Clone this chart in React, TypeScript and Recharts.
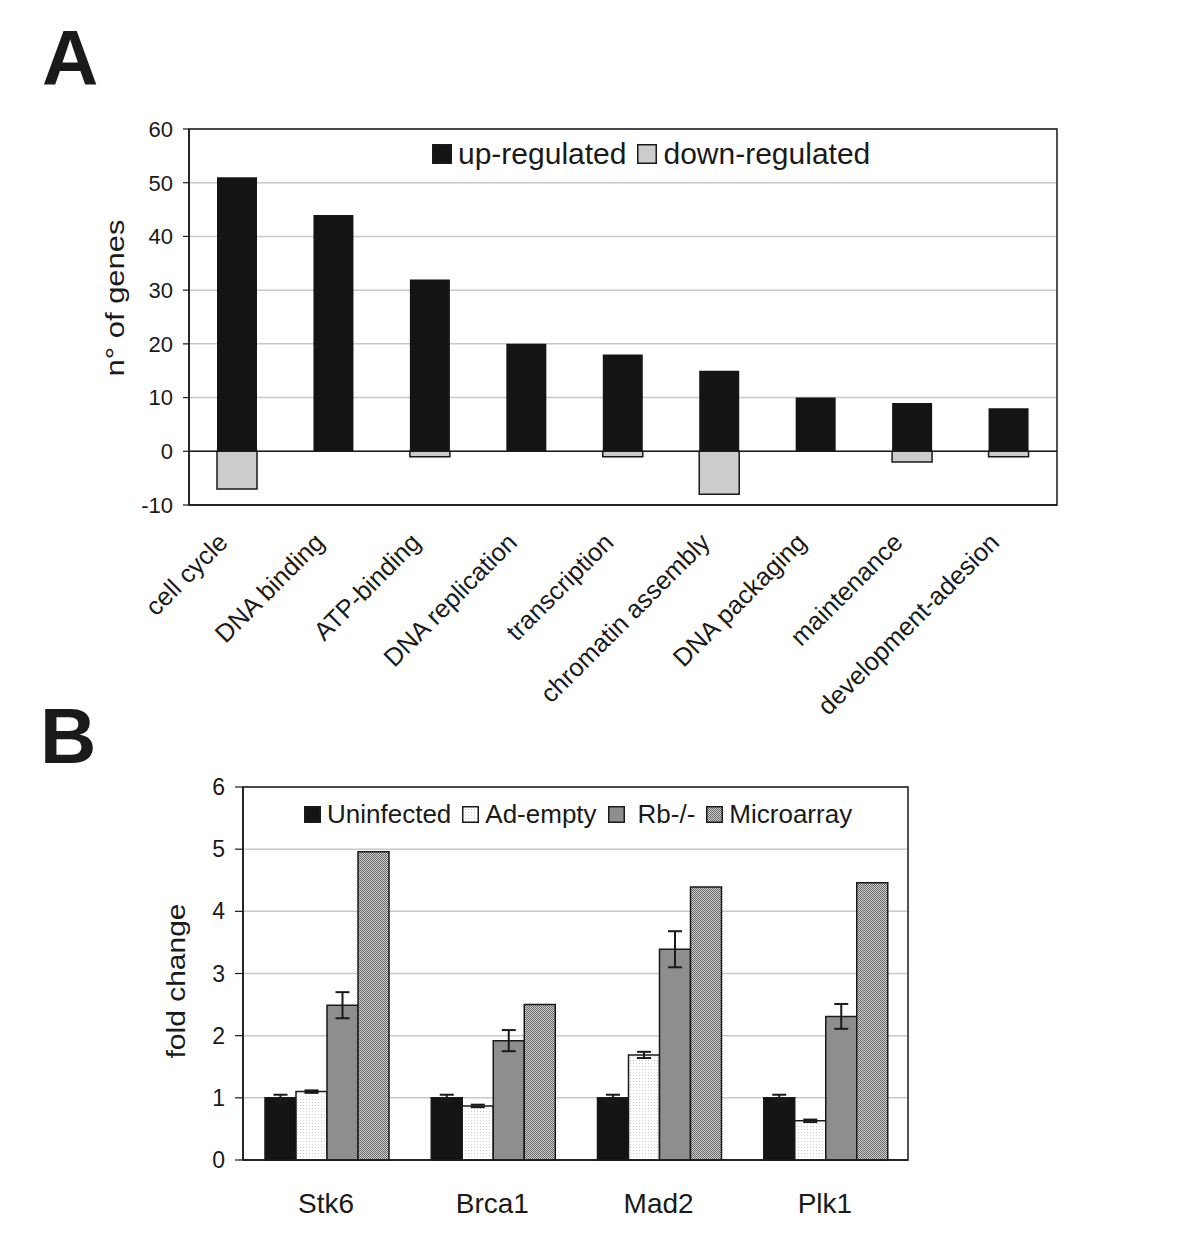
import React from 'react';
import { BarChart, Bar, XAxis, YAxis, CartesianGrid, ReferenceLine, ReferenceArea, Legend, ErrorBar } from 'recharts';

const FONT = '"Liberation Sans", Arial, Helvetica, sans-serif';
const INK = '#1a1a1a';

// ---------- Panel A data ----------
const categoriesA = [
  'cell cycle',
  'DNA binding',
  'ATP-binding',
  'DNA replication',
  'transcription',
  'chromatin assembly',
  'DNA packaging',
  'maintenance',
  'development-adesion',
];
const seriesA = ['up-regulated', 'down-regulated'];
const upRegulated = [51, 44, 32, 20, 18, 15, 10, 9, 8];
const downRegulated = [-7, 0, -1, 0, -1, -8, 0, -2, -1];
const yTicksA = [-10, 0, 10, 20, 30, 40, 50, 60];

// ---------- Panel B data ----------
const genes = ['Stk6', 'Brca1', 'Mad2', 'Plk1'];
const seriesB = ['Uninfected', 'Ad-empty', 'Rb-/-', 'Microarray'];
const uninfected = [1.0, 1.0, 1.0, 1.0];
const uninfectedErr = [0.05, 0.05, 0.05, 0.05];
const adEmpty = [1.1, 0.87, 1.69, 0.63];
const adEmptyErr = [0.02, 0.02, 0.05, 0.02];
const rbKO = [2.49, 1.92, 3.39, 2.31];
const rbKOErr = [0.21, 0.17, 0.29, 0.2];
const microarray = [4.96, 2.5, 4.39, 4.46];
const yTicksB = [0, 1, 2, 3, 4, 5, 6];

const dataA = categoriesA.map((c, i) => ({ category: c, up: upRegulated[i], down: downRegulated[i] }));
const dataB = genes.map((g, i) => ({
  gene: g,
  uninfected: uninfected[i],
  uninfectedErr: uninfectedErr[i],
  adEmpty: adEmpty[i],
  adEmptyErr: adEmptyErr[i],
  rb: rbKO[i],
  rbErr: rbKOErr[i],
  microarray: microarray[i],
}));

const RotatedTick = (props: any) => {
  const { x, y, payload } = props;
  return (
    <g transform={`translate(${x - 8},${y + 39})`}>
      <text x={0} y={0} transform="rotate(-45)" textAnchor="end" fontSize={25.5} fontFamily={FONT} fill={INK}>
        {payload.value}
      </text>
    </g>
  );
};

const AxisTitle = (props: any) => {
  const { px, py, text, len, size } = props;
  return (
    <text
      x={px}
      y={py}
      transform={`rotate(-90, ${px}, ${py})`}
      textAnchor="middle"
      fontSize={size}
      fontFamily={FONT}
      fill={INK}
      textLength={len}
      lengthAdjust="spacingAndGlyphs"
    >
      {text}
    </text>
  );
};

const makeLegend = (order: string[], fontSize: number, box: number, gap: number, textGaps: number[]) => (props: any) => {
  const items = [...(props.payload || [])].sort((a: any, b: any) => order.indexOf(a.value) - order.indexOf(b.value));
  return (
    <div style={{ display: 'flex', alignItems: 'center', fontFamily: FONT, fontSize, color: INK, whiteSpace: 'nowrap', lineHeight: 1.15 }}>
      {items.map((e: any, i: number) => (
        <div key={i} style={{ display: 'flex', alignItems: 'center', marginRight: gap }}>
          <svg width={box} height={box} style={{ display: 'block' }}>
            <rect x={0.75} y={0.75} width={box - 1.5} height={box - 1.5} fill={e.color} stroke={INK} strokeWidth={1.5} />
          </svg>
          <span style={{ marginLeft: textGaps[i] ?? 6 }}>{e.value}</span>
        </div>
      ))}
    </div>
  );
};

const LegendA = makeLegend(seriesA, 30, 20, 11, [6, 6]);
const LegendB = makeLegend(seriesB, 26, 17, 11, [6, 6, 13, 6]);

export default function App() {
  return (
    <div style={{ position: 'absolute', left: 0, top: 0, width: 1200, height: 1249, background: '#ffffff', fontFamily: FONT }}>
      <div style={{ position: 'absolute', left: 42, top: 19, fontSize: 78, fontWeight: 'bold', lineHeight: 1, color: INK, fontFamily: FONT }}>A</div>
      <div style={{ position: 'absolute', left: 40, top: 697, fontSize: 78, fontWeight: 'bold', lineHeight: 1, color: INK, fontFamily: FONT }}>B</div>

      {/* Panel A */}
      <div style={{ position: 'absolute', left: 0, top: 0 }}>
        <BarChart
          width={1200}
          height={740}
          data={dataA}
          stackOffset="sign"
          margin={{ top: 129, right: 143, bottom: 0, left: 0 }}
        >
          <CartesianGrid vertical={false} stroke="#c8c8c8" strokeWidth={1.5} />
          <XAxis
            dataKey="category"
            interval={0}
            height={235}
            tickLine={false}
            tickSize={0}
            tickMargin={0}
            axisLine={{ stroke: INK, strokeWidth: 1.5 }}
            tick={<RotatedTick />}
          />
          <YAxis
            width={189}
            domain={[-10, 60]}
            ticks={yTicksA}
            interval={0}
            tickSize={6}
            tickMargin={10}
            tickLine={{ stroke: INK, strokeWidth: 1.2 }}
            axisLine={{ stroke: INK, strokeWidth: 1.5 }}
            tick={{ fontSize: 22, fill: INK, fontFamily: FONT }}
            label={<AxisTitle px={124} py={298} text="n° of genes" len={157} size={26} />}
          />
          <ReferenceArea y1={-10} y2={60} fill="none" fillOpacity={0} stroke={INK} strokeWidth={1.5} />
          <ReferenceLine y={0} stroke={INK} strokeWidth={1.5} />
          <Legend
            layout="horizontal"
            verticalAlign="middle"
            align="center"
            content={<LegendA />}
            wrapperStyle={{ top: 137, left: 432, width: 'auto', height: 'auto' }}
          />
          <Bar dataKey="up" name="up-regulated" stackId="s" fill="#141414" barSize={40} isAnimationActive={false} />
          <Bar dataKey="down" name="down-regulated" stackId="s" fill="#cccccc" stroke={INK} strokeWidth={1.5} barSize={40} isAnimationActive={false} />
        </BarChart>
      </div>

      {/* Panel B */}
      <div style={{ position: 'absolute', left: 0, top: 700 }}>
        <BarChart
          width={1200}
          height={549}
          data={dataB}
          barGap={0}
          barCategoryGap={22}
          margin={{ top: 87, right: 292, bottom: 0, left: 0 }}
        >
          <defs>
            <pattern id="dotsPat" width="3" height="3" patternUnits="userSpaceOnUse">
              <rect width="3" height="3" fill="#ffffff" />
              <rect width="1" height="1" fill="#cdcdcd" />
            </pattern>
            <pattern id="checkPat" width="2" height="2" patternUnits="userSpaceOnUse">
              <rect width="2" height="2" fill="#cfcfcf" />
              <rect width="1" height="1" fill="#686868" />
              <rect x="1" y="1" width="1" height="1" fill="#686868" />
            </pattern>
          </defs>
          <CartesianGrid vertical={false} stroke="#c8c8c8" strokeWidth={1.5} />
          <XAxis
            dataKey="gene"
            interval={0}
            height={89}
            tickLine={false}
            tickSize={6}
            tickMargin={27}
            axisLine={{ stroke: INK, strokeWidth: 1.5 }}
            tick={{ fontSize: 28, fill: INK, fontFamily: FONT }}
          />
          <YAxis
            width={243}
            domain={[0, 6]}
            ticks={yTicksB}
            interval={0}
            tickSize={8}
            tickMargin={10}
            tickLine={{ stroke: INK, strokeWidth: 1.2 }}
            axisLine={{ stroke: INK, strokeWidth: 1.5 }}
            tick={{ fontSize: 23, fill: INK, fontFamily: FONT }}
            label={<AxisTitle px={185} py={281} text="fold change" len={155} size={25} />}
          />
          <ReferenceArea y1={0} y2={6} fill="none" fillOpacity={0} stroke={INK} strokeWidth={1.5} />
          <Legend
            layout="horizontal"
            verticalAlign="middle"
            align="center"
            content={<LegendB />}
            wrapperStyle={{ top: 100, left: 304, width: 'auto', height: 'auto' }}
          />
          <Bar dataKey="uninfected" name="Uninfected" fill="#141414" stroke={INK} strokeWidth={1.5} isAnimationActive={false}>
            <ErrorBar dataKey="uninfectedErr" width={7} stroke={INK} strokeWidth={2} direction="y" />
          </Bar>
          <Bar dataKey="adEmpty" name="Ad-empty" fill="url(#dotsPat)" stroke={INK} strokeWidth={1.5} isAnimationActive={false}>
            <ErrorBar dataKey="adEmptyErr" width={7} stroke={INK} strokeWidth={2} direction="y" />
          </Bar>
          <Bar dataKey="rb" name="Rb-/-" fill="#8e8e8e" stroke={INK} strokeWidth={1.5} isAnimationActive={false}>
            <ErrorBar dataKey="rbErr" width={7} stroke={INK} strokeWidth={2} direction="y" />
          </Bar>
          <Bar dataKey="microarray" name="Microarray" fill="url(#checkPat)" stroke={INK} strokeWidth={1.5} isAnimationActive={false} />
        </BarChart>
      </div>
    </div>
  );
}
